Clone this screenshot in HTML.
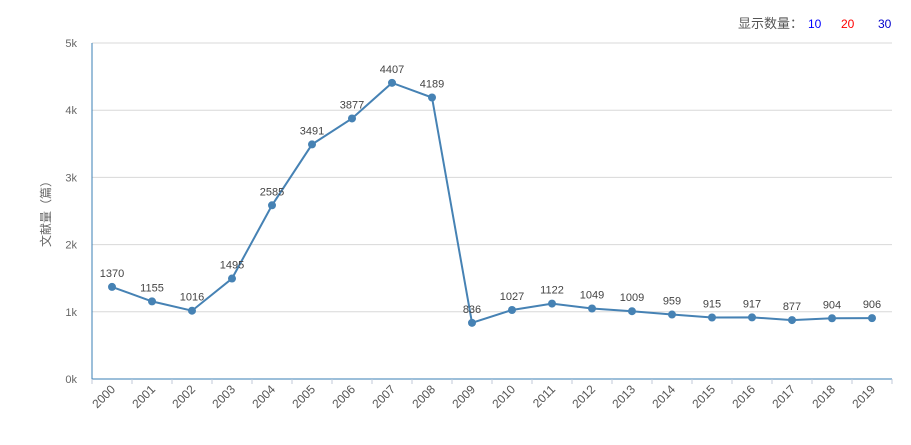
<!DOCTYPE html>
<html><head><meta charset="utf-8"><style>
body{margin:0;background:#fff;}
svg{display:block;font-family:"Liberation Sans","Noto Sans CJK SC",sans-serif;}
</style></head><body>
<svg id="c" width="911" height="445">
<g>
<text x="738" y="28" font-size="13" fill="#555">显示数量：</text>
<text x="808" y="28" font-size="12" fill="#0000ff">10</text>
<text x="841" y="28" font-size="12" fill="#ff0000">20</text>
<text x="878" y="28" font-size="12" fill="#0000cc">30</text>
</g>
<text transform="translate(50,211) rotate(-90)" text-anchor="middle" font-size="12" fill="#666">文献量（篇）</text>
<g id="grid"></g><g id="xax"></g><g id="series"></g>
</svg>
<script>
const categories=["2000","2001","2002","2003","2004","2005","2006","2007","2008","2009","2010","2011","2012","2013","2014","2015","2016","2017","2018","2019"];
const values=[1370,1155,1016,1495,2585,3491,3877,4407,4189,836,1027,1122,1049,1009,959,915,917,877,904,906];
const yTicks=[0,1000,2000,3000,4000,5000];
const yTickLabels=["0k","1k","2k","3k","4k","5k"];
const NS="http://www.w3.org/2000/svg";
const L=92,R=892,T=43,B=379,YMAX=5000;
const bw=(R-L)/categories.length;
const x=i=>L+bw*(i+0.5);
const y=v=>B-(v/YMAX)*(B-T);
function mk(tag,a,p){const e=document.createElementNS(NS,tag);for(const k in a)e.setAttribute(k,a[k]);p.appendChild(e);return e;}
const grid=document.getElementById('grid'),xax=document.getElementById('xax'),ser=document.getElementById('series');
yTicks.forEach((t,i)=>{
 if(t>0){const g=mk('line',{x1:L,x2:R,y1:y(t),y2:y(t),stroke:'#d8d8d8'},grid);
 
 }
 const tx=mk('text',{x:77,y:y(t)+4,'text-anchor':'end','font-size':11,fill:'#666'},grid);
 tx.textContent=yTickLabels[i];
 
 
});
const ya=mk('line',{x1:L,x2:L,y1:T,y2:B,stroke:'#3a7fb5'},xax);


const xa=mk('line',{x1:L,x2:R,y1:B,y2:B,stroke:'#3a7fb5'},xax);


for(let i=0;i<=categories.length;i++){
 const tk=mk('line',{x1:L+bw*i,x2:L+bw*i,y1:B,y2:B+5,stroke:'#c0c8d8'},xax);
 
 
}
categories.forEach((c,i)=>{
 const t=mk('text',{transform:`translate(${x(i)+4},${B+11}) rotate(-45)`,'text-anchor':'end','font-size':12,fill:'#555'},xax);
 t.textContent=c;
 
 
});
const pl=mk('polyline',{points:values.map((v,i)=>x(i)+','+y(v)).join(' '),fill:'none',stroke:'#4682b4','stroke-width':2},ser);


values.forEach((v,i)=>{
 const p=mk('circle',{cx:x(i),cy:y(v),r:4,fill:'#4682b4'},ser);
 
 
 const t=mk('text',{x:x(i),y:y(v)-10,'text-anchor':'middle','font-size':11,fill:'#444'},ser);
 t.textContent=v;
 
 
});
</script>
</body></html>
